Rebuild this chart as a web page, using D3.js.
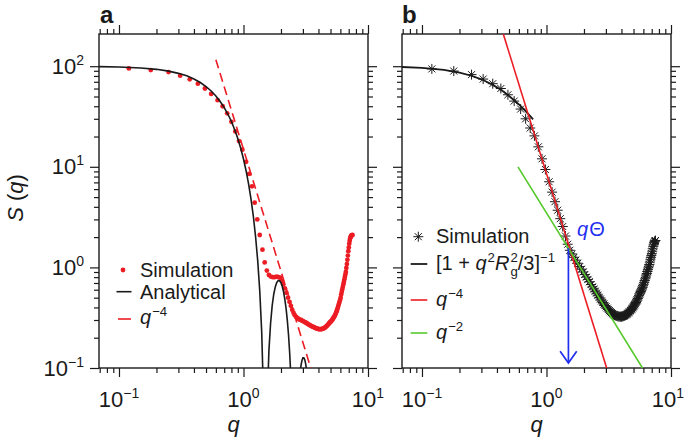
<!DOCTYPE html>
<html>
<head>
<meta charset="utf-8">
<style>
  body { margin: 0; background: #fff; }
  svg text { font-family: "Liberation Sans", Arial, Helvetica, sans-serif; }
</style>
</head>
<body>
<svg id="fig" width="685" height="439"></svg>
<script src="https://cdn.jsdelivr.net/npm/d3@7"></script>
<script>
// ---- data ----
// simulation wave numbers (same grid for both panels)
const qSim = [
  0.12,0.18,0.25,0.31,0.37,0.43,0.49,0.55,0.62,0.68,
  0.74,0.80,0.86,0.92,0.98,1.05,1.11,1.17,1.23,1.29,
  1.35,1.42,1.48,1.54,1.60,1.66,1.72,1.78,1.85,1.91,
  1.97,2.03,2.09,2.15,2.21,2.28,2.34,2.40,2.46,2.52,
  2.58,2.65,2.71,2.77,2.83,2.89,2.95,3.01,3.08,3.14,
  3.20,3.26,3.32,3.38,3.44,3.51,3.57,3.63,3.69,3.75,
  3.81,3.88,3.94,4.00,4.06,4.12,4.18,4.24,4.31,4.37,
  4.43,4.49,4.55,4.61,4.67,4.74,4.80,4.86,4.92,4.98,
  5.04,5.11,5.17,5.23,5.29,5.35,5.41,5.47,5.54,5.60,
  5.66,5.72,5.78,5.84,5.90,5.97,6.03,6.09,6.15,6.21,
  6.27,6.34,6.40,6.46,6.52,6.58,6.64,6.70,6.77,6.83,
  6.89,6.95,7.01,7.07,7.13,7.20,7.26,7.32,7.38,7.44,
  7.50]

// panel a: simulation (red dots)
const sSimA = [
  95,91.5,87.5,80.5,74,67,60,53,46,40,
  34,28,22.5,18,14.8,11.2,8.5,6.4,4.4,3.0,
  2.1,1.5,1.12,0.93,0.84,0.81,0.80,0.80,0.81,0.80,
  0.79,0.74,0.68,0.62,0.56,0.50,0.455,0.415,0.38,0.355,
  0.335,0.322,0.313,0.307,0.303,0.300,0.296,0.292,0.288,0.284,
  0.280,0.276,0.272,0.268,0.265,0.261,0.258,0.256,0.254,0.251,
  0.249,0.247,0.245,0.244,0.243,0.243,0.243,0.244,0.245,0.247,
  0.249,0.251,0.254,0.258,0.262,0.267,0.272,0.277,0.282,0.287,
  0.290,0.296,0.302,0.309,0.316,0.323,0.331,0.340,0.355,0.367,
  0.382,0.398,0.415,0.434,0.453,0.475,0.500,0.537,0.569,0.603,
  0.638,0.676,0.716,0.759,0.804,0.851,0.902,0.989,1.08,1.19,
  1.31,1.45,1.58,1.72,1.84,1.95,2.02,2.06,2.08,2.09,
  2.10]

// panel b: simulation (stars)
const sSimB = [
  94,89.5,82.5,74.5,67,60,52,45,37.5,30,
  24.3,20.3,15.8,12.0,9.4,7.1,5.6,4.5,3.7,3.05,
  2.55,2.05,1.70,1.48,1.36,1.26,1.18,1.10,1.02,0.96,
  0.90,0.85,0.80,0.76,0.72,0.675,0.64,0.61,0.58,0.555,
  0.53,0.505,0.485,0.465,0.448,0.432,0.418,0.405,0.393,0.382,
  0.372,0.363,0.355,0.348,0.342,0.337,0.333,0.330,0.328,0.326,
  0.325,0.324,0.324,0.324,0.325,0.327,0.329,0.332,0.335,0.339,
  0.343,0.349,0.354,0.360,0.366,0.373,0.380,0.387,0.395,0.405,
  0.414,0.425,0.436,0.448,0.461,0.475,0.490,0.508,0.528,0.545,
  0.56,0.576,0.594,0.613,0.634,0.656,0.68,0.71,0.74,0.77,
  0.80,0.84,0.87,0.91,0.95,0.99,1.03,1.07,1.13,1.19,
  1.25,1.31,1.37,1.45,1.53,1.62,1.70,1.76,1.80,1.83,
  1.85]

// panel a: analytical curve (black), dips to zero are drawn off the bottom
const qAna = [0.069,0.1,0.15,0.2,0.25,0.3,0.35,0.4,0.45,0.5,0.55,0.6,0.65,0.7,0.75,0.8,
  0.85,0.9,0.95,1.0,1.05,1.1,1.15,1.2,1.25,1.3,1.35,1.4,1.45,1.5,1.55,1.6,1.65,1.7,
  1.75,1.8,1.85,1.9,1.95,2.0,2.05,2.1,2.15,2.2,2.25,2.3,2.35,2.4,2.45,2.5,2.55,2.58,
  2.6,2.65,2.7,2.8,2.85,2.9,2.95,3.0,3.05,3.1,3.15,3.2,3.3,3.4,3.5,3.6]
const sAna = [99.1,98.2,96.0,93.1,89.4,84.9,80.2,74.5,68.8,62.8,56.7,50.6,44.6,38.8,33.3,28.2,
  23.4,19.1,15.3,11.95,9.09,6.70,4.75,3.21,2.03,1.175,0.591,0.231,0.049,0.0005,0.0447,0.148,0.277,0.417,
  0.541,0.640,0.708,0.740,0.737,0.704,0.645,0.568,0.479,0.387,0.296,0.213,0.140,0.083,0.041,0.014,0.0021,0.0003,
  0.0013,0.0124,0.0276,0.0697,0.091,0.107,0.119,0.126,0.126,0.122,0.112,0.099,0.0666,0.0346,0.0114,0.0007]

// panel a: q^-4 guide (dashed red), end points
const qPowA = [0.60, 3.47]
const sPowA = [116, 0.1]

// panel b: [1 + q^2 Rg^2/3]^-1 fit (black)
const qFit = [0.069,0.1,0.15,0.2,0.25,0.3,0.35,0.4,0.45,0.5,0.55,0.6,0.65,0.7,0.75,0.78]
const sFit = [98.2,96.2,91.9,86.5,80.4,74.1,67.7,61.6,55.9,50.6,45.9,41.7,37.8,34.3,31.3,29.6]

// panel b: q^-4 (red) and q^-2 (green) guides, end points
const qRedB = [0.45, 3.05]
const sRedB = [209, 0.099]
const qGreenB = [0.59, 5.9]
const sGreenB = [10, 0.1]

// panel b: q_Theta arrow
const qTheta = 1.5
const sArrow = [1.55, 0.112]

// ticks
const majorX = [0.1, 1, 10]
const minorX = [0.07,0.08,0.09,0.2,0.3,0.4,0.5,0.6,0.7,0.8,0.9,2,3,4,5,6,7,8,9]
const majorY = [0.1, 1, 10, 100]
const minorY = [0.2,0.3,0.4,0.5,0.6,0.7,0.8,0.9,2,3,4,5,6,7,8,9,20,30,40,50,60,70,80,90]
const expX = ["\u22121", "0", "1"]
const expY = ["\u22121", "0", "1", "2"]

// ---- drawing ----
const red = "#ec1c24", green = "#55c92b", blue = "#1f2ff0", ink = "#1a1a1a"
const W = 269, H = 334
const svg = d3.select("#fig")

const x = d3.scaleLog().domain([0.0691, 10]).range([0, W])
const y = d3.scaleLog().domain([0.1, 209]).range([H, 0])

const gA = svg.append("g").attr("transform", "translate(99,34)")
const gB = svg.append("g").attr("transform", "translate(402,34)")

function frame(g, id, left, yLabels) {
    const defs = g.append("defs")
    defs.append("clipPath").attr("id", "clip" + id)
        .append("rect").attr("width", W).attr("height", H)

    // major and minor ticks on all four sides, pointing out
    const sides = [
        [d3.axisBottom(x), "translate(0," + H + ")", majorX, minorX],
        [d3.axisTop(x), "translate(0,0)", majorX, minorX],
        [d3.axisLeft(y), "translate(0,0)", majorY, minorY],
        [d3.axisRight(y), "translate(" + W + ",0)", majorY, minorY]
    ]
    sides.forEach(s => {
        [[s[2], 9], [s[3], 5]].forEach(t => {
            const ax = s[0].tickValues(t[0]).tickSize(t[1]).tickSizeOuter(0).tickFormat("")
            const ag = g.append("g").attr("transform", s[1]).call(ax)
            ag.select(".domain").remove()
            ag.selectAll("line").attr("stroke", ink).attr("stroke-width", 1.2)
        })
    })
    g.append("rect").attr("width", W).attr("height", H)
        .attr("fill", "none").attr("stroke", ink).attr("stroke-width", 1.4)

    // x tick labels (kept inside the page at the right edge)
    majorX.forEach((v, i) => {
        const t = g.append("text").attr("x", x(v)).attr("y", H + 39)
            .attr("text-anchor", "middle").attr("font-size", 22).attr("fill", ink)
        t.append("tspan").text("10")
        t.append("tspan").attr("font-size", 14).attr("dy", -9).text(expX[i])
        const w = t.node().getComputedTextLength()
        const maxX = 684 - left - w / 2
        if (x(v) > maxX) t.attr("x", maxX)
    })
    if (yLabels) {
        majorY.forEach((v, i) => {
            const t = g.append("text").attr("x", -15).attr("y", y(v) + 7.5)
                .attr("text-anchor", "end").attr("font-size", 22).attr("fill", ink)
            t.append("tspan").text("10")
            t.append("tspan").attr("font-size", 14).attr("dy", -9).text(expY[i])
        })
    }
    // x title
    g.append("text").attr("x", W / 2).attr("y", H + 64).attr("text-anchor", "middle")
        .attr("font-size", 22).attr("font-style", "italic").attr("fill", ink).text("q")
}

frame(gA, "A", 99, true)
frame(gB, "B", 402, false)

const line = d3.line().x(d => x(d[0])).y(d => y(d[1]))
const zip = (a, b) => a.map((v, i) => [v, b[i]])

// panel a
const pA = gA.append("g").attr("clip-path", "url(#clipA)")
pA.selectAll("circle").data(zip(qSim, sSimA)).join("circle")
    .attr("cx", d => x(d[0])).attr("cy", d => y(d[1])).attr("r", 2.4).attr("fill", red)
pA.append("path").datum(zip(qAna, sAna)).attr("d", line)
    .attr("fill", "none").attr("stroke", ink).attr("stroke-width", 1.6)
pA.append("path").datum(zip(qPowA, sPowA)).attr("d", line)
    .attr("fill", "none").attr("stroke", red).attr("stroke-width", 1.6)
    .attr("stroke-dasharray", "9,5")

// panel b
const pB = gB.append("g").attr("clip-path", "url(#clipB)")
const star = "M-5,0H5M0,-5V5M-3.5,-3.5L3.5,3.5M-3.5,3.5L3.5,-3.5"
pB.append("path").datum(zip(qFit, sFit)).attr("d", line)
    .attr("fill", "none").attr("stroke", ink).attr("stroke-width", 1.8)
pB.selectAll("path.star").data(zip(qSim, sSimB)).join("path").attr("class", "star")
    .attr("transform", d => "translate(" + x(d[0]) + "," + y(d[1]) + ")")
    .attr("d", star).attr("stroke", ink).attr("stroke-width", 1).attr("fill", "none")
pB.append("path").datum(zip(qRedB, sRedB)).attr("d", line)
    .attr("fill", "none").attr("stroke", red).attr("stroke-width", 1.6)
pB.append("path").datum(zip(qGreenB, sGreenB)).attr("d", line)
    .attr("fill", "none").attr("stroke", green).attr("stroke-width", 1.6)

// q_Theta arrow
const ax0 = x(qTheta), ay0 = y(sArrow[0]), ay1 = y(sArrow[1])
pB.append("line").attr("x1", ax0).attr("x2", ax0).attr("y1", ay0).attr("y2", ay1)
    .attr("stroke", blue).attr("stroke-width", 1.7)
pB.append("path").attr("d", "M" + (ax0 - 8.3) + "," + (ay1 - 11.7) + "L" + ax0 + "," + ay1 + "L" + (ax0 + 8.3) + "," + (ay1 - 11.7))
    .attr("fill", "none").attr("stroke", blue).attr("stroke-width", 1.7)

// ---- text with sub/superscripts, laid out piece by piece ----
function rich(xs, yb, parts, fs, color) {
    let cx = xs
    const put = (t, px, py, size, ital) => {
        const el = svg.append("text").attr("x", px).attr("y", py).attr("font-size", size)
            .attr("fill", color).attr("font-style", ital ? "italic" : "normal").text(t)
        return el.node().getComputedTextLength()
    }
    parts.forEach(p => {
        const txt = p[0], kind = p[1]
        if (kind === "stack") {
            const a = put(txt[0], cx, yb - fs * 0.42, fs * 0.66, false)
            const b = put(txt[1], cx, yb + fs * 0.3, fs * 0.66, false)
            cx += Math.max(a, b)
        } else if (kind === "sup") {
            cx += put(txt, cx, yb - fs * 0.42, fs * 0.66, false)
        } else if (kind === "i") {
            cx += put(txt, cx, yb, fs, true) + 1
        } else {
            cx += put(txt, cx, yb, fs, false)
        }
    })
}

// legend a
svg.append("circle").attr("cx", 123).attr("cy", 270).attr("r", 2.4).attr("fill", red)
rich(140, 277, [["Simulation", "n"]], 20, ink)
svg.append("line").attr("x1", 116.5).attr("x2", 131.5).attr("y1", 291.7).attr("y2", 291.7)
    .attr("stroke", ink).attr("stroke-width", 1.6)
rich(140, 298.5, [["Analytical", "n"]], 20, ink)
svg.append("line").attr("x1", 118).attr("x2", 131).attr("y1", 319).attr("y2", 319)
    .attr("stroke", red).attr("stroke-width", 1.6)
rich(140, 324, [["q", "i"], ["\u22124", "sup"]], 20, ink)

// legend b
svg.append("path").attr("transform", "translate(418.3,236.7)").attr("d", star)
    .attr("stroke", ink).attr("stroke-width", 1).attr("fill", "none")
rich(436, 243, [["Simulation", "n"]], 20, ink)
svg.append("line").attr("x1", 410.7).attr("x2", 427.3).attr("y1", 264).attr("y2", 264)
    .attr("stroke", ink).attr("stroke-width", 1.8)
rich(436, 270, [["[1\u00a0+\u00a0", "n"], ["q", "i"], ["2", "sup"], ["R", "i"], [["2", "g"], "stack"], ["/3]", "n"], ["\u22121", "sup"]], 20, ink)
svg.append("line").attr("x1", 410.7).attr("x2", 427.3).attr("y1", 300).attr("y2", 300)
    .attr("stroke", red).attr("stroke-width", 1.6)
rich(436, 306, [["q", "i"], ["\u22124", "sup"]], 20, ink)
svg.append("line").attr("x1", 410.7).attr("x2", 427.3).attr("y1", 333).attr("y2", 333)
    .attr("stroke", green).attr("stroke-width", 1.6)
rich(436, 339, [["q", "i"], ["\u22122", "sup"]], 20, ink)

// q_Theta label
rich(577, 236, [["q", "i"], ["\u0398", "n"]], 20, blue)

// panel letters and y title
svg.append("text").attr("x", 100).attr("y", 23).attr("font-size", 24).attr("font-weight", "bold")
    .attr("fill", ink).text("a")
svg.append("text").attr("x", 402).attr("y", 23).attr("font-size", 24).attr("font-weight", "bold")
    .attr("fill", ink).text("b")
const yt = svg.append("text").attr("transform", "translate(23,198) rotate(-90)")
    .attr("text-anchor", "middle").attr("font-size", 22).attr("fill", ink)
yt.append("tspan").attr("font-style", "italic").text("S")
yt.append("tspan").text("\u00a0(")
yt.append("tspan").attr("font-style", "italic").text("q")
yt.append("tspan").text(")")
</script>
</body>
</html>
